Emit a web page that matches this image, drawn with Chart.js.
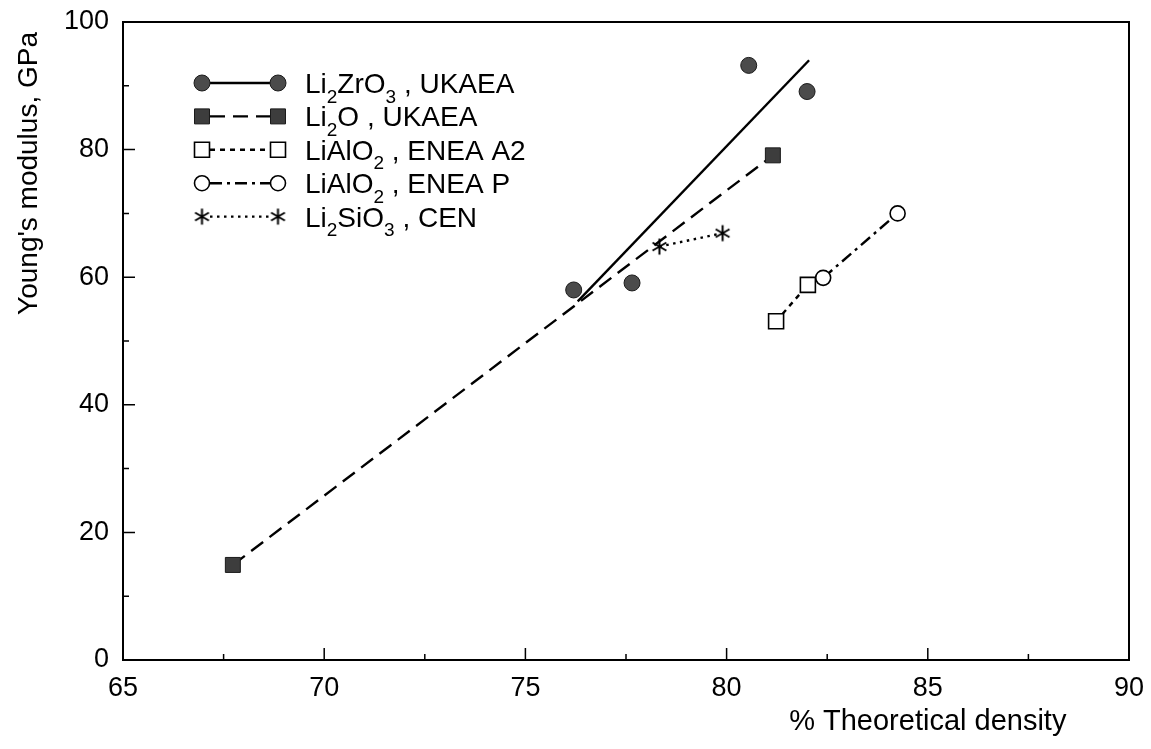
<!DOCTYPE html>
<html>
<head>
<meta charset="utf-8">
<title>Young's modulus vs theoretical density</title>
<script src="https://cdn.jsdelivr.net/npm/chart.js@4.4.1/dist/chart.umd.min.js"></script>
<style>
  html, body { margin: 0; padding: 0; background: #fff; }
  #wrap { width: 1151px; height: 749px; }
</style>
</head>
<body>
<div id="wrap"><canvas id="modulusChart" width="1151" height="749"></canvas></div>
<script>
// Young's modulus (GPa) against % theoretical density for the breeder ceramics
const zirconateDensity = [76.2, 77.65, 80.55, 82.0];
const zirconateModulus = [58.0, 59.1, 93.2, 89.1];
// straight-line fit through the Li2ZrO3 points
const zirconateFitDensity = [76.3, 82.05];
const zirconateFitModulus = [56.2, 94.0];
const oxideDensity = [67.73, 81.15];
const oxideModulus = [14.9, 79.1];
const aluminateA2Density = [81.23, 82.02];
const aluminateA2Modulus = [53.1, 58.8];
const aluminatePDensity = [82.4, 84.25];
const aluminatePModulus = [59.9, 70.0];
const silicateDensity = [78.33, 79.9];
const silicateModulus = [64.8, 66.9];

// "_n" marks a subscript digit
const seriesLabels = [
    'Li_2ZrO_3 , UKAEA',
    'Li_2O , UKAEA',
    'LiAlO_2 , ENEA A2',
    'LiAlO_2 , ENEA P',
    'Li_2SiO_3 , CEN'
];

const xTitle = '% Theoretical density';
const yTitle = "Young's modulus, GPa";

const FONT = "'Liberation Sans', Arial, Helvetica, sans-serif";

function toPoints(xs, ys) {
    return xs.map((x, i) => ({ x: x, y: ys[i] }));
}

// six-armed asterisk used as the Li2SiO3 marker
function makeAsterisk(size) {
    const c = document.createElement('canvas');
    c.width = size;
    c.height = size;
    const g = c.getContext('2d');
    const r = size / 2 - 1.5;
    g.translate(size / 2, size / 2);
    g.strokeStyle = '#000';
    g.lineWidth = 2;
    g.beginPath();
    for (let k = 0; k < 3; k++) {
        const a = Math.PI / 2 + k * Math.PI / 3;
        g.moveTo(Math.cos(a) * r, Math.sin(a) * r);
        g.lineTo(-Math.cos(a) * r, -Math.sin(a) * r);
    }
    g.stroke();
    return c;
}
const asterisk = makeAsterisk(19);

// marker + line style per series, shared by the plot and the legend
const styles = [
    { pointStyle: 'circle', radius: 8, fill: '#4b4b4b', stroke: '#1a1a1a', borderWidth: 1, dash: [] },
    { pointStyle: 'rect', radius: 10.6, fill: '#3d3d3d', stroke: '#1a1a1a', borderWidth: 1, dash: [15, 8] },
    { pointStyle: 'rect', radius: 10.6, fill: '#fff', stroke: '#000', borderWidth: 1.6, dash: [5, 5] },
    { pointStyle: 'circle', radius: 7.5, fill: '#fff', stroke: '#000', borderWidth: 1.6, dash: [12, 5, 3, 5] },
    { pointStyle: asterisk, radius: 9, fill: '#000', stroke: '#000', borderWidth: 1, dash: [2.5, 4.5] }
];

function seriesDataset(points, st, withLine) {
    return {
        data: points,
        showLine: withLine,
        borderColor: '#000',
        borderWidth: 2.4,
        borderDash: st.dash,
        pointStyle: st.pointStyle,
        pointRadius: st.radius,
        pointBackgroundColor: st.fill,
        pointBorderColor: st.stroke,
        pointBorderWidth: st.borderWidth
    };
}

const datasets = [
    seriesDataset(toPoints(zirconateDensity, zirconateModulus), styles[0], false),
    seriesDataset(toPoints(oxideDensity, oxideModulus), styles[1], true),
    seriesDataset(toPoints(aluminateA2Density, aluminateA2Modulus), styles[2], true),
    seriesDataset(toPoints(aluminatePDensity, aluminatePModulus), styles[3], true),
    seriesDataset(toPoints(silicateDensity, silicateModulus), styles[4], true),
    {
        data: toPoints(zirconateFitDensity, zirconateFitModulus),
        showLine: true,
        borderColor: '#000',
        borderWidth: 2.4,
        pointRadius: 0
    }
];

function drawMarker(ctx, st, x, y) {
    ctx.save();
    ctx.setLineDash([]);
    ctx.fillStyle = st.fill;
    ctx.strokeStyle = st.stroke;
    ctx.lineWidth = st.borderWidth;
    if (st.pointStyle === 'circle') {
        ctx.beginPath();
        ctx.arc(x, y, st.radius, 0, Math.PI * 2);
        ctx.fill();
        ctx.stroke();
    } else if (st.pointStyle === 'rect') {
        const h = st.radius * Math.SQRT1_2;
        ctx.beginPath();
        ctx.rect(x - h, y - h, 2 * h, 2 * h);
        ctx.fill();
        ctx.stroke();
    } else {
        ctx.drawImage(st.pointStyle, x - st.pointStyle.width / 2, y - st.pointStyle.height / 2);
    }
    ctx.restore();
}

// text with subscripts, e.g. Li_2ZrO_3
function drawRichText(ctx, text, x, y, size) {
    const parts = text.split(/_(\d)/);
    let cx = x;
    parts.forEach((part, i) => {
        const sub = i % 2 === 1;
        ctx.font = (sub ? Math.round(size * 0.68) : size) + 'px ' + FONT;
        ctx.fillText(part, cx, sub ? y + size * 0.34 : y);
        cx += ctx.measureText(part).width;
    });
}

const decorations = {
    id: 'decorations',
    afterDraw(chart) {
        const ctx = chart.ctx;
        const area = chart.chartArea;
        const xs = chart.scales.x;
        const ys = chart.scales.y;

        ctx.save();
        ctx.strokeStyle = '#000';

        // frame
        ctx.lineWidth = 2;
        ctx.strokeRect(area.left, area.top, area.right - area.left, area.bottom - area.top);

        // inward ticks, long on labelled values
        ctx.lineWidth = 1.5;
        ctx.beginPath();
        xs.ticks.forEach(t => {
            const px = xs.getPixelForValue(t.value);
            const len = t.value % 5 === 0 ? 12 : 6;
            ctx.moveTo(px, area.bottom);
            ctx.lineTo(px, area.bottom - len);
        });
        ys.ticks.forEach(t => {
            const py = ys.getPixelForValue(t.value);
            const len = t.value % 20 === 0 ? 12 : 6;
            ctx.moveTo(area.left, py);
            ctx.lineTo(area.left + len, py);
        });
        ctx.stroke();

        // axis titles
        ctx.fillStyle = '#000';
        ctx.textBaseline = 'middle';
        ctx.textAlign = 'center';
        ctx.font = '29px ' + FONT;
        ctx.fillText(xTitle, area.left + (area.right - area.left) * 0.8, 722);

        ctx.font = '28px ' + FONT;
        const yw = ctx.measureText(yTitle).width;
        ctx.save();
        ctx.translate(29, area.top + 10 + yw / 2);
        ctx.rotate(-Math.PI / 2);
        ctx.fillText(yTitle, 0, 0);
        ctx.restore();

        // legend: marker, line sample, marker, label
        ctx.textAlign = 'left';
        ctx.textBaseline = 'alphabetic';
        const x1 = area.left + 79;
        const x2 = area.left + 155;
        const tx = area.left + 182;
        seriesLabels.forEach((label, i) => {
            const st = styles[i];
            const y = area.top + 61 + i * 33.4;
            ctx.save();
            ctx.lineWidth = 2.4;
            ctx.setLineDash(st.dash);
            ctx.beginPath();
            ctx.moveTo(x1 + 8, y);
            ctx.lineTo(x2 - 8, y);
            ctx.stroke();
            ctx.restore();
            drawMarker(ctx, st, x1, y);
            drawMarker(ctx, st, x2, y);
            drawRichText(ctx, label, tx, y + 10, 28);
        });

        ctx.restore();
    }
};

new Chart(document.getElementById('modulusChart').getContext('2d'), {
    type: 'scatter',
    data: { datasets: datasets },
    options: {
        responsive: false,
        animation: false,
        events: [],
        layout: { padding: { top: 22, right: 22, left: 0, bottom: 0 } },
        plugins: {
            legend: { display: false },
            tooltip: { enabled: false }
        },
        scales: {
            x: {
                type: 'linear',
                min: 65,
                max: 90,
                grid: { display: false, drawTicks: false },
                border: { display: false },
                ticks: {
                    stepSize: 2.5,
                    autoSkip: false,
                    maxRotation: 0,
                    padding: 12,
                    color: '#000',
                    font: { family: FONT, size: 27 },
                    callback: v => (v % 5 === 0 ? v : '')
                },
                afterFit: scale => {
                    scale.height = 89;
                    scale.paddingLeft = 0;
                    scale.paddingRight = 0;
                }
            },
            y: {
                type: 'linear',
                min: 0,
                max: 100,
                grid: { display: false, drawTicks: false },
                border: { display: false },
                ticks: {
                    stepSize: 10,
                    autoSkip: false,
                    padding: 14,
                    color: '#000',
                    font: { family: FONT, size: 27 },
                    callback: v => (v % 20 === 0 ? v : '')
                },
                afterFit: scale => {
                    scale.width = 123;
                    scale.paddingTop = 0;
                    scale.paddingBottom = 0;
                }
            }
        }
    },
    plugins: [decorations]
});
</script>
</body>
</html>
